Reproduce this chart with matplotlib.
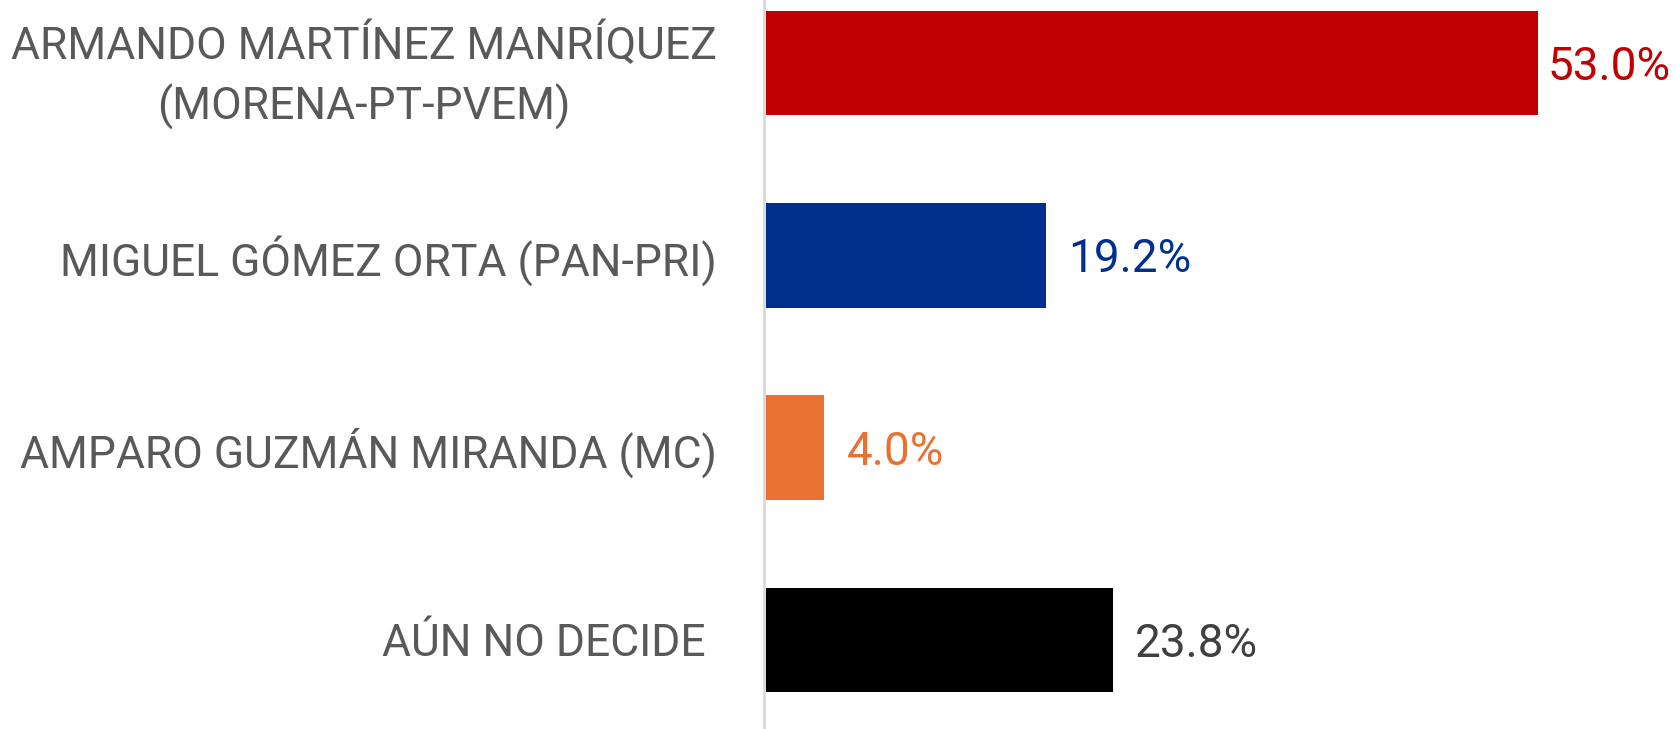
import matplotlib
matplotlib.use("Agg")
import matplotlib.pyplot as plt

categories = ["ARMANDO MARTÍNEZ MANRÍQUEZ\n(MORENA-PT-PVEM)",
              "MIGUEL GÓMEZ ORTA (PAN-PRI)",
              "AMPARO GUZMÁN MIRANDA (MC)",
              "AÚN NO DECIDE "]
values = [53.0, 19.2, 4.0, 23.8]
bar_colors = ["#C00000", "#002F8E", "#E97132", "#000000"]
label_colors = ["#C00000", "#002F8E", "#E97132", "#404040"]
label_offsets = [10, 22, 22, 22]

fig = plt.figure(figsize=(16.77, 7.29), dpi=100)
ax = fig.add_axes([764/1677, 0, 1 - 764/1677, 1])

y = list(range(len(values)))
ax.barh(y, values, height=0.545, color=bar_colors, left=0.15)
ax.set_ylim(3.463, -0.328)
ax.set_xlim(0, 62.7)

for i, (v, c, off) in enumerate(zip(values, label_colors, label_offsets)):
    ax.annotate(f"{v:.1f}%", xy=(v + 0.15, i), xytext=(off, -4), textcoords="offset pixels",
                ha="left", va="center", color=c, fontsize=33, family="Roboto")

ax.set_yticks(y)
ax.set_yticklabels(categories, fontsize=32, color="#595959", family="Roboto",
                   multialignment="center", linespacing=1.45)
ax.tick_params(axis="y", length=0, pad=34)
ax.set_xticks([])
for s in ["top", "right", "bottom"]:
    ax.spines[s].set_visible(False)
ax.spines["left"].set_color("#D9D9D9")
ax.spines["left"].set_linewidth(2)

fig.savefig("out.png", dpi=100)
